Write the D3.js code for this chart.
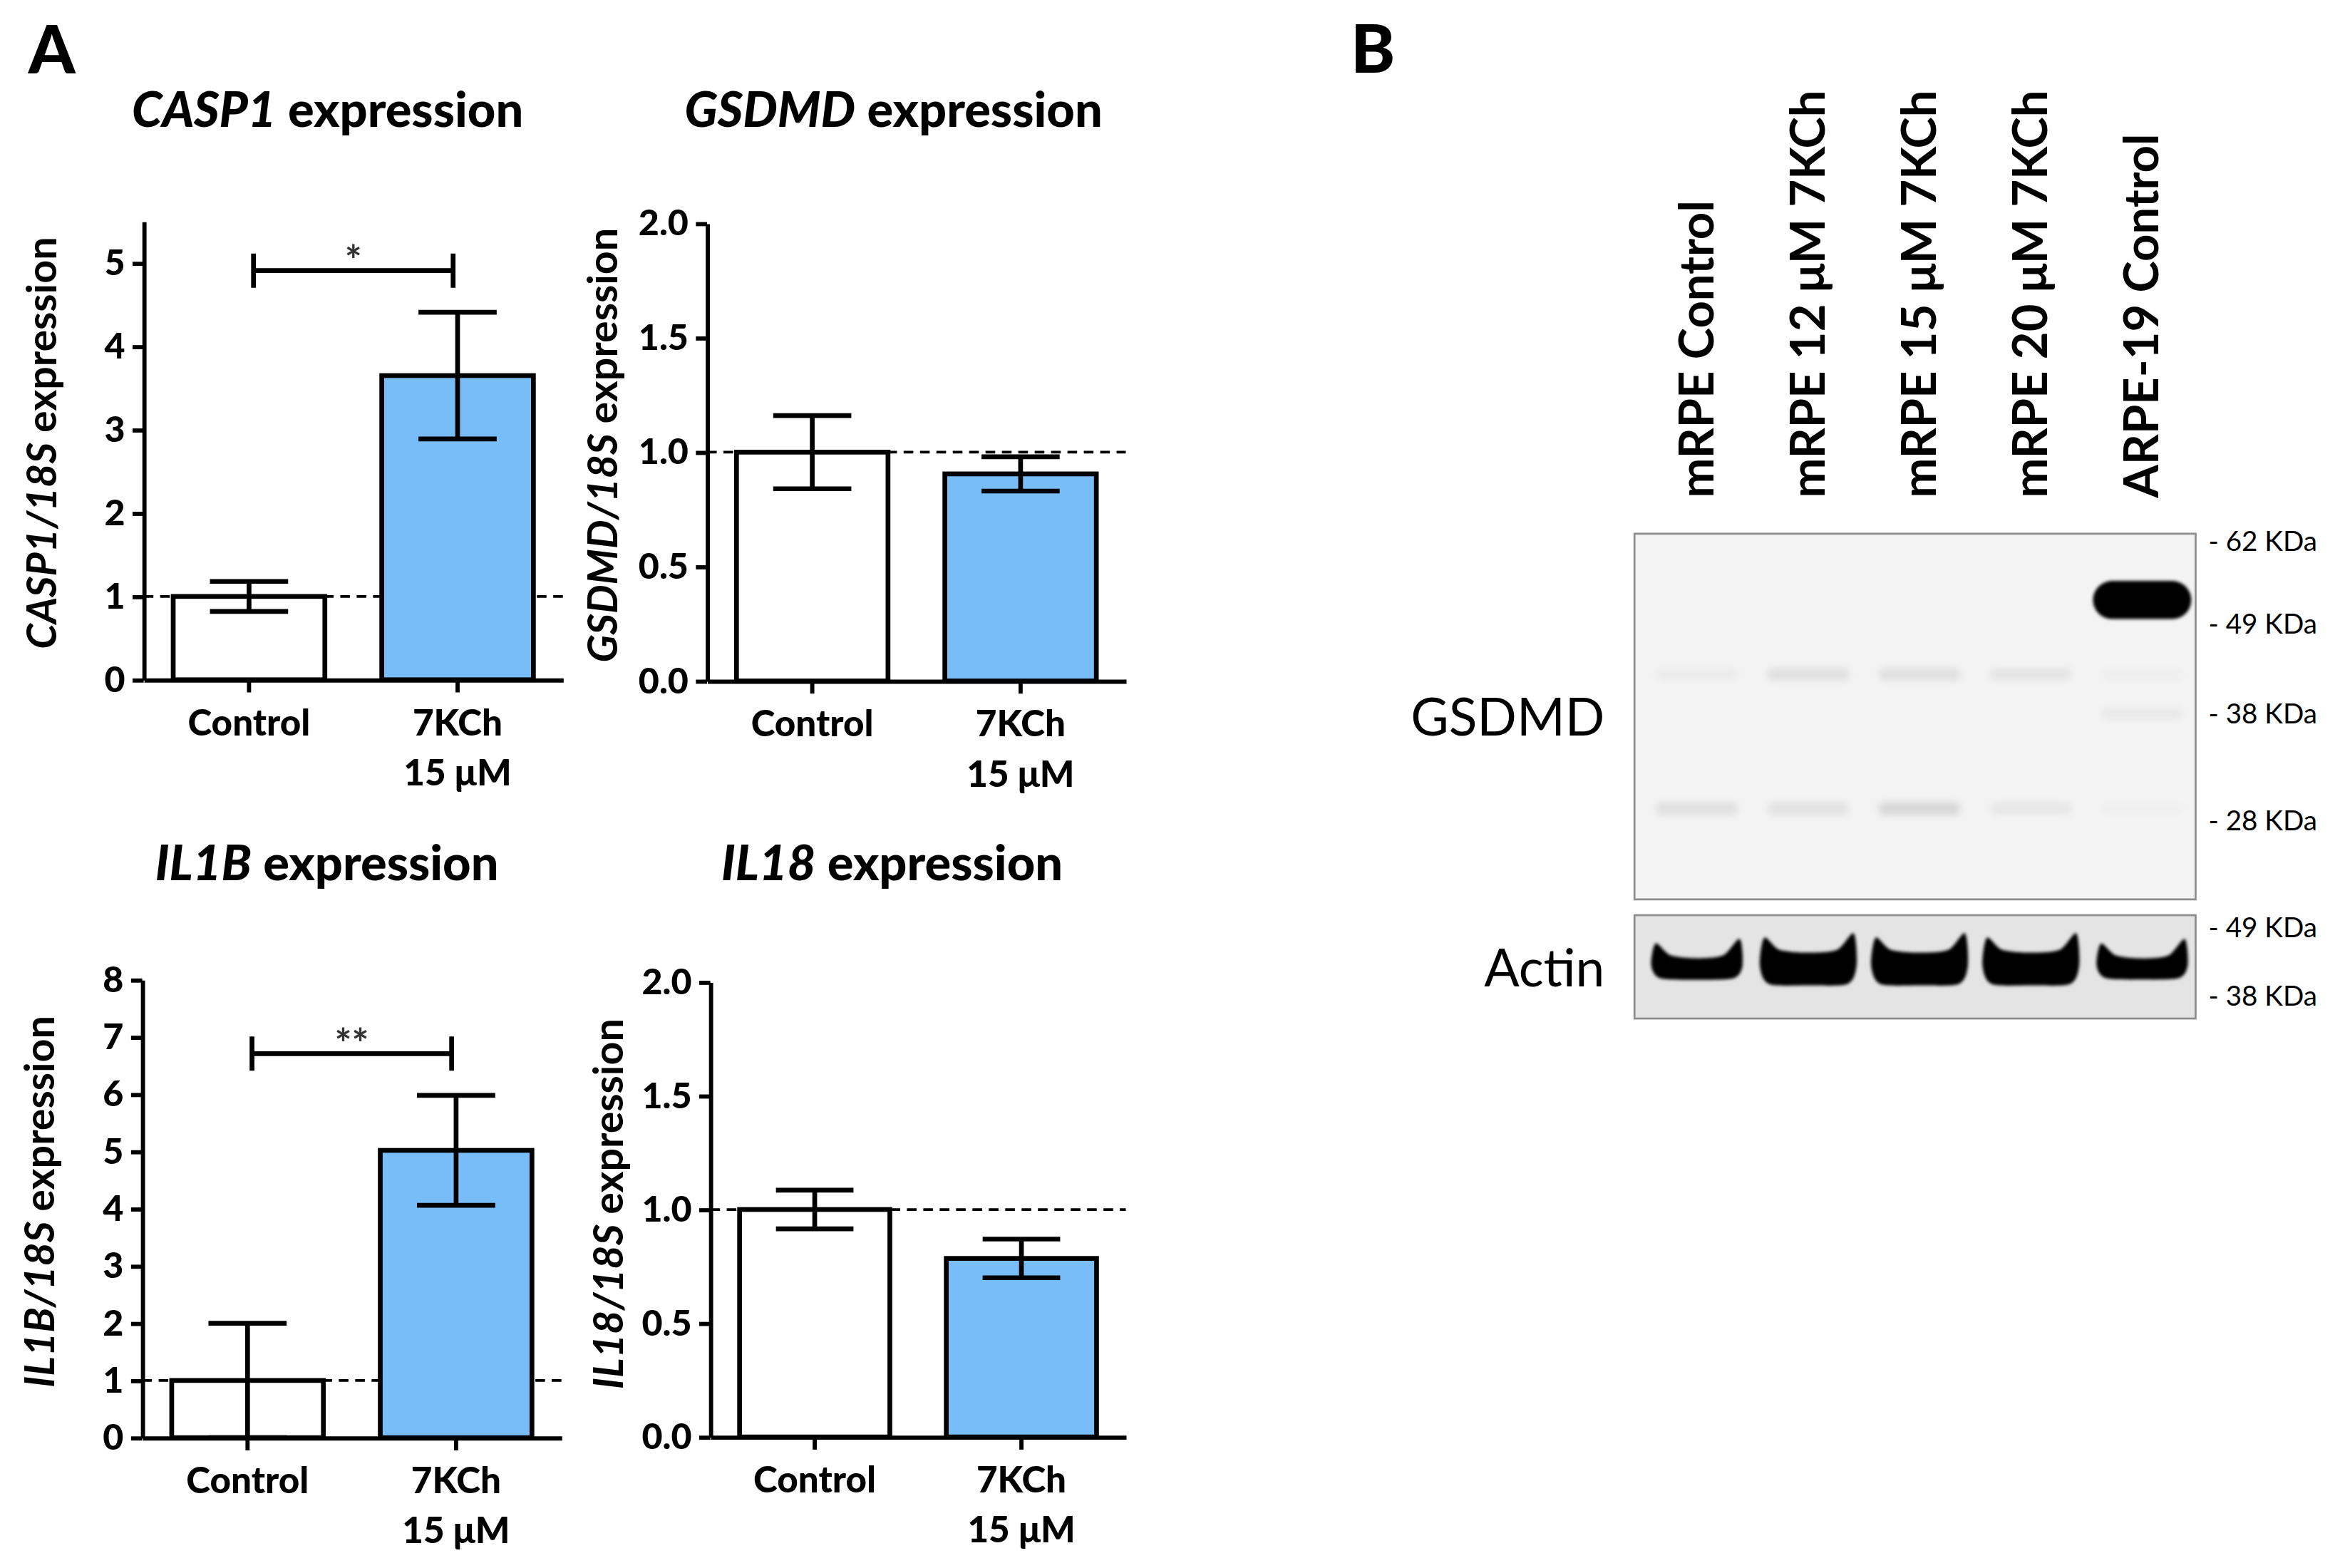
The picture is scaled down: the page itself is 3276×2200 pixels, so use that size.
<!DOCTYPE html>
<html>
<head>
<meta charset="utf-8">
<script src="https://cdn.jsdelivr.net/npm/d3@7"></script>
<style>
  body { margin: 0; background: #fff; }
  text { font-family: Lato, "Open Sans", sans-serif; }
</style>
</head>
<body>
<svg id="fig"></svg>
<script>
// ---- data ----
const groupNames = ['Control', '7KCh'];
const groupLabels = [['Control'], ['7KCh', '15 μM']];

const casp1Mean = [1.0, 3.65];
const casp1Err = [0.18, 0.76];
const gsdmdMean = [1.0, 0.905];
const gsdmdErr = [0.16, 0.075];
const il1bMean = [1.0, 5.02];
const il1bErr = [1.0, 0.96];
const il18Mean = [1.0, 0.785];
const il18Err = [0.085, 0.085];

const casp1Ticks = [0, 1, 2, 3, 4, 5];
const gsdmdTicks = [0, 0.5, 1.0, 1.5, 2.0];
const il1bTicks = [0, 1, 2, 3, 4, 5, 6, 7, 8];
const il18Ticks = [0, 0.5, 1.0, 1.5, 2.0];

const sigLabels = ['*', '**'];      // CASP1, IL1B
const sigLevels = [4.91, 6.71];

// western blot
const lanes = ['mRPE Control', 'mRPE 12 μM 7KCh', 'mRPE 15 μM 7KCh', 'mRPE 20 μM 7KCh', 'ARPE-19 Control'];
const gsdmdMarkers = [62, 49, 38, 28];
const actinMarkers = [49, 38];
const gsdmdBandKDa = [52.5, 42.5, 38, 29];
const gsdmdBandLevels = [
  [0, 0, 0, 0, 1],
  [0.03, 0.08, 0.08, 0.06, 0.02],
  [0, 0, 0, 0, 0.04],
  [0.08, 0.07, 0.11, 0.05, 0.015]
];
const actinKDa = 42.8;
const actinLevels = [0.72, 1, 1, 1, 0.71];

// ---- layout ----
const W = 1568, H = 1053;
const svg = d3.select('#fig')
  .attr('width', 3276)
  .attr('height', 2200)
  .attr('viewBox', `0 0 ${W} ${H}`);

const defs = svg.append('defs');
defs.append('filter').attr('id', 'blurS').attr('x', '-20%').attr('y', '-50%').attr('width', '140%').attr('height', '200%')
  .append('feGaussianBlur').attr('stdDeviation', 1.1);
defs.append('filter').attr('id', 'blurL').attr('x', '-20%').attr('y', '-100%').attr('width', '140%').attr('height', '300%')
  .append('feGaussianBlur').attr('stdDeviation', 2.4);

const blue = '#79bdf8';

svg.append('text').attr('x', 19).attr('y', 49.4)
  .attr('font-size', 45).attr('font-weight', 900).text('A');
svg.append('text').attr('x', 907).attr('y', 48.7)
  .attr('font-size', 45).attr('font-weight', 900).text('B');

function drawPanel(p) {
  const g = svg.append('g');
  const x = d3.scaleBand().domain(groupNames).range([p.left, p.right])
    .paddingInner(0.25).paddingOuter(0.13);
  const y = d3.scaleLinear().domain([0, p.ymax]).range([p.bottom, p.top]);
  const bw = x.bandwidth();

  // reference line at 1
  g.append('line')
    .attr('x1', p.left).attr('x2', p.right)
    .attr('y1', y(1)).attr('y2', y(1))
    .attr('stroke', '#000').attr('stroke-width', 1.8)
    .attr('stroke-dasharray', '6.5,4.5');

  g.selectAll('rect.bar').data(p.mean).join('rect')
    .attr('class', 'bar')
    .attr('x', (d, i) => x(groupNames[i]) + 1.6)
    .attr('width', bw - 3.2)
    .attr('y', d => y(d))
    .attr('height', d => y(0) - y(d))
    .attr('fill', (d, i) => i === 0 ? '#fff' : blue)
    .attr('stroke', '#000').attr('stroke-width', 3.2);

  // error bars
  const eb = g.selectAll('g.err').data(p.mean).join('g').attr('class', 'err')
    .attr('stroke', '#000').attr('stroke-width', 3.2);
  eb.append('line')
    .attr('x1', (d, i) => x(groupNames[i]) + bw / 2)
    .attr('x2', (d, i) => x(groupNames[i]) + bw / 2)
    .attr('y1', (d, i) => y(Math.max(0, d - p.err[i])))
    .attr('y2', (d, i) => y(d + p.err[i]));
  [-1, 1].forEach(s => {
    eb.append('line')
      .attr('x1', (d, i) => x(groupNames[i]) + bw * 0.25)
      .attr('x2', (d, i) => x(groupNames[i]) + bw * 0.75)
      .attr('y1', (d, i) => y(Math.max(0, d + s * p.err[i])))
      .attr('y2', (d, i) => y(Math.max(0, d + s * p.err[i])));
  });

  // significance bracket
  if (p.sig != null) {
    const x1 = x(groupNames[0]) + bw / 2 + 3;
    const x2 = x(groupNames[1]) + bw / 2 - 3;
    const yy = y(sigLevels[p.sig]);
    g.append('path')
      .attr('d', `M${x1},${yy - 11.5}V${yy + 11.5}M${x1},${yy}H${x2}M${x2},${yy - 11.5}V${yy + 11.5}`)
      .attr('fill', 'none').attr('stroke', '#000').attr('stroke-width', 3.2);
    g.append('text')
      .attr('x', (x1 + x2) / 2).attr('y', yy + 3)
      .attr('text-anchor', 'middle').attr('font-size', 27).attr('font-weight', 700)
      .attr('fill', '#333')
      .text(sigLabels[p.sig]);
  }

  // axes
  const ya = g.append('g').attr('transform', `translate(${p.left},0)`)
    .call(d3.axisLeft(y).tickValues(p.ticks).tickSize(7.5).tickSizeOuter(0)
      .tickPadding(5).tickFormat(p.fmt));
  const xa = g.append('g').attr('transform', `translate(0,${p.bottom})`)
    .call(d3.axisBottom(x).tickSize(8.5).tickSizeOuter(0).tickFormat(''));
  [ya, xa].forEach(a => {
    a.select('.domain').attr('stroke-width', 2.8);
    a.selectAll('.tick line').attr('stroke-width', 2.8);
  });
  ya.selectAll('.tick text')
    .attr('font-size', 24).attr('font-weight', 900).attr('fill', '#000')
    .attr('font-family', 'Lato, sans-serif');

  // group labels
  groupNames.forEach((n, i) => {
    groupLabels[i].forEach((line, k) => {
      g.append('text')
        .attr('x', x(n) + bw / 2)
        .attr('y', p.bottom + 37.3 + k * 33.6)
        .attr('text-anchor', 'middle')
        .attr('font-size', 24.5).attr('font-weight', 900)
        .text(line);
    });
  });

  // title
  const t = g.append('text').attr('x', p.titleX).attr('y', p.titleY)
    .attr('text-anchor', 'middle').attr('font-size', 32.8).attr('font-weight', 900);
  t.append('tspan').attr('font-style', 'italic').text(p.gene);
  t.append('tspan').text(' expression');

  // y label
  const yl = g.append('text')
    .attr('transform', `translate(${p.ylabX},${p.ylabY}) rotate(-90)`)
    .attr('text-anchor', 'middle').attr('font-size', 27.5).attr('font-weight', 700);
  yl.append('tspan').attr('font-style', 'italic').text(p.gene + '/18S');
  yl.append('tspan').text(' expression');
}

const fmtInt = d3.format('d');
const fmt1 = d3.format('.1f');

drawPanel({gene: 'CASP1', mean: casp1Mean, err: casp1Err, ticks: casp1Ticks, fmt: fmtInt,
  ymax: 5.5, left: 96.5, right: 378, bottom: 456.5, top: 148.7,
  titleX: 220, titleY: 85, ylabX: 37.6, ylabY: 297.5, sig: 0});
drawPanel({gene: 'GSDMD', mean: gsdmdMean, err: gsdmdErr, ticks: gsdmdTicks, fmt: fmt1,
  ymax: 2.0, left: 474.8, right: 756, bottom: 457.3, top: 150,
  titleX: 600, titleY: 85, ylabX: 414.7, ylabY: 299, sig: null});
drawPanel({gene: 'IL1B', mean: il1bMean, err: il1bErr, ticks: il1bTicks, fmt: fmtInt,
  ymax: 8, left: 95.5, right: 377, bottom: 965.5, top: 658,
  titleX: 219.5, titleY: 591, ylabX: 36.3, ylabY: 807, sig: 1});
drawPanel({gene: 'IL18', mean: il18Mean, err: il18Err, ticks: il18Ticks, fmt: fmt1,
  ymax: 2.0, left: 477, right: 756, bottom: 965, top: 659.5,
  titleX: 599, titleY: 591, ylabX: 418.4, ylabY: 808.5, sig: null});

// ---- western blot ----
const blot = svg.append('g');
const boxL = 1097.6, boxR = 1474.4;
const lane = d3.scalePoint().domain(lanes).range([1139.5, 1438.5]);
const mwG = d3.scaleLog().domain([63.4, 22.4]).range([358.4, 604]);
const mwA = d3.scaleLog().domain([51.3, 34.9]).range([614.6, 684]);

blot.append('rect').attr('x', boxL).attr('y', mwG.range()[0])
  .attr('width', boxR - boxL).attr('height', mwG.range()[1] - mwG.range()[0])
  .attr('fill', '#f3f3f3').attr('stroke', '#8c8c8c').attr('stroke-width', 1.3);
blot.append('rect').attr('x', boxL).attr('y', mwA.range()[0])
  .attr('width', boxR - boxL).attr('height', mwA.range()[1] - mwA.range()[0])
  .attr('fill', '#e4e4e4').attr('stroke', '#8c8c8c').attr('stroke-width', 1.3);

// GSDMD bands
gsdmdBandKDa.forEach((kda, b) => {
  blot.selectAll(null).data(gsdmdBandLevels[b].map((v, i) => ({v, lane: lanes[i]})).filter(d => d.v > 0))
    .join('rect')
    .attr('x', d => lane(d.lane) - (27 + 6 * d.v))
    .attr('width', d => 54 + 12 * d.v)
    .attr('y', d => mwG(kda) - (3.5 + 9.3 * d.v))
    .attr('height', d => 7 + 18.6 * d.v)
    .attr('rx', d => 3.5 + 9.3 * d.v)
    .attr('fill', '#000')
    .attr('fill-opacity', d => d.v)
    .attr('filter', d => d.v > 0.5 ? 'url(#blurS)' : 'url(#blurL)');
});

// actin bands (smile-shaped)
const bandLine = d3.line().curve(d3.curveCardinalClosed.tension(0.2));
function actinPath(cx, cy, w, t) {
  const h = t / 2;
  return bandLine([
    [cx - w / 2 + 3, cy - h - 4],
    [cx - w / 2 + 13, cy - h + 4],
    [cx, cy - h + 6],
    [cx + w / 2 - 13, cy - h + 4],
    [cx + w / 2 - 2, cy - h - 7],
    [cx + w / 2, cy + 1],
    [cx + w / 2 - 6, cy + h],
    [cx, cy + h + 1],
    [cx - w / 2 + 6, cy + h],
    [cx - w / 2, cy + 1]
  ]);
}
blot.selectAll('path.actin').data(actinLevels).join('path')
  .attr('class', 'actin')
  .attr('d', (v, i) => actinPath(lane(lanes[i]), mwA(actinKDa), 52 + 13 * v, 27 * v))
  .attr('fill', '#000')
  .attr('filter', 'url(#blurS)');

// markers
blot.selectAll('text.mkG').data(gsdmdMarkers).join('text')
  .attr('class', 'mkG')
  .attr('x', 1483).attr('y', d => mwG(d)).attr('dy', '0.35em')
  .attr('font-size', 18.5).text(d => `- ${d} KDa`);
blot.selectAll('text.mkA').data(actinMarkers).join('text')
  .attr('class', 'mkA')
  .attr('x', 1483).attr('y', d => mwA(d)).attr('dy', '0.35em')
  .attr('font-size', 18.5).text(d => `- ${d} KDa`);

// lane labels
blot.selectAll('text.lane').data(lanes).join('text')
  .attr('class', 'lane')
  .attr('transform', d => `translate(${lane(d) + 11},334.3) rotate(-90)`)
  .attr('font-size', 32).attr('font-weight', 700)
  .text(d => d);

// row labels
blot.append('text').attr('x', 1077.6).attr('y', 494)
  .attr('text-anchor', 'end').attr('font-size', 35).text('GSDMD');
blot.append('text').attr('x', 1077.6).attr('y', 662.3)
  .attr('text-anchor', 'end').attr('font-size', 35).text('Actin');
</script>
</body>
</html>
